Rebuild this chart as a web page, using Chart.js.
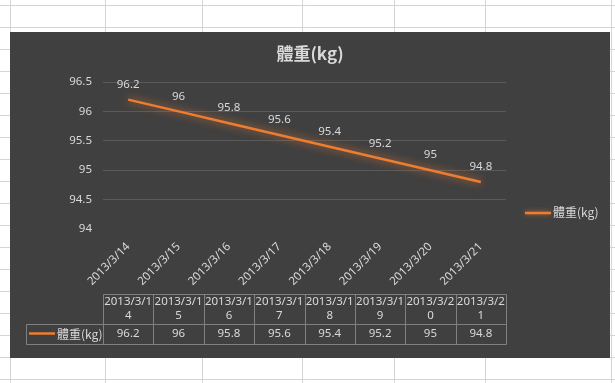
<!DOCTYPE html>
<html>
<head>
<meta charset="utf-8">
<script src="https://cdn.jsdelivr.net/npm/chart.js@4.4.1/dist/chart.umd.min.js"></script>
<style>
  html, body { margin: 0; padding: 0; background: #fff; }
  #chart { display: block; }
</style>
</head>
<body>
<canvas id="chart" width="615" height="383"></canvas>
<script>
// data
var dates = ['2013/3/14', '2013/3/15', '2013/3/16', '2013/3/17', '2013/3/18', '2013/3/19', '2013/3/20', '2013/3/21'];
var weights = [96.2, 96, 95.8, 95.6, 95.4, 95.2, 95, 94.8];
var yTicks = [94, 94.5, 95, 95.5, 96, 96.5];
var seriesName = '體重(kg)';
var chartTitle = '體重(kg)';

var ORANGE = '#ED7D31';
var PANEL = '#404040';
var TEXT = '#d9d9d9';
var FONT = '"Noto Sans", "Noto Sans CJK TC", sans-serif';

// white sheet, cell grid and the dark chart panel behind everything
var sheetPlugin = {
  id: 'sheet',
  beforeDraw: function(chart) {
    var ctx = chart.ctx;
    ctx.save();
    ctx.fillStyle = '#fff';
    ctx.fillRect(0, 0, chart.width, chart.height);
    ctx.strokeStyle = '#d4d4d4';
    ctx.lineWidth = 1;
    var cols = [10, 105, 202, 302, 394, 485, 611];
    cols.forEach(function(x) {
      ctx.beginPath(); ctx.moveTo(x + 0.5, 0); ctx.lineTo(x + 0.5, chart.height); ctx.stroke();
    });
    for (var y = 5; y < chart.height; y += 22) {
      ctx.beginPath(); ctx.moveTo(0, y + 0.5); ctx.lineTo(chart.width, y + 0.5); ctx.stroke();
    }
    ctx.fillStyle = PANEL;
    ctx.fillRect(10, 32, 600, 326);
    // title
    ctx.fillStyle = TEXT;
    ctx.font = 'bold 17px "Noto Sans CJK TC", sans-serif';
    ctx.textAlign = 'center';
    ctx.textBaseline = 'middle';
    ctx.fillText(chartTitle, 310, 54);
    ctx.restore();
  }
};

// soft orange glow on the line
var glowPlugin = {
  id: 'glow',
  beforeDatasetDraw: function(chart) {
    var ctx = chart.ctx;
    ctx.save();
    ctx.shadowColor = 'rgba(237,125,49,0.85)';
    ctx.shadowBlur = 9;
  },
  afterDatasetDraw: function(chart) {
    chart.ctx.restore();
  }
};

// value labels above each point
var valuePlugin = {
  id: 'values',
  afterDatasetsDraw: function(chart) {
    var ctx = chart.ctx;
    var meta = chart.getDatasetMeta(0);
    ctx.save();
    ctx.fillStyle = TEXT;
    ctx.font = '11.5px ' + FONT;
    ctx.textAlign = 'center';
    ctx.textBaseline = 'middle';
    meta.data.forEach(function(pt, i) {
      ctx.fillText(String(weights[i]), pt.x, pt.y - 15);
    });
    ctx.restore();
  }
};

// data table under the axis + legend on the right
var tablePlugin = {
  id: 'table',
  afterDraw: function(chart) {
    var ctx = chart.ctx;
    var xs = chart.scales.x;
    var n = dates.length;
    var w = xs.width / n;
    var top = chart.chartArea.bottom + 65;
    var mid = top + 30;
    var bot = mid + 20;
    var keyLeft = 26;
    ctx.save();
    ctx.strokeStyle = '#808080';
    ctx.lineWidth = 1;
    function line(x1, y1, x2, y2) {
      ctx.beginPath(); ctx.moveTo(x1, y1); ctx.lineTo(x2, y2); ctx.stroke();
    }
    var left = Math.round(xs.left) + 0.5;
    var right = Math.round(xs.right) + 0.5;
    line(left, top + 0.5, right, top + 0.5);
    line(keyLeft + 0.5, mid + 0.5, right, mid + 0.5);
    line(keyLeft + 0.5, bot + 0.5, right, bot + 0.5);
    line(keyLeft + 0.5, mid + 0.5, keyLeft + 0.5, bot + 0.5);
    for (var i = 0; i <= n; i++) {
      var x = Math.round(xs.left + i * w) + 0.5;
      line(x, top + 0.5, x, bot + 0.5);
    }
    ctx.fillStyle = TEXT;
    ctx.font = '11.5px ' + FONT;
    ctx.textAlign = 'center';
    ctx.textBaseline = 'middle';
    dates.forEach(function(d, i) {
      var cx = xs.getPixelForValue(i);
      ctx.fillText(d.slice(0, 8), cx, top + 8);
      ctx.fillText(d.slice(8), cx, top + 22);
      ctx.fillText(String(weights[i]), cx, mid + 10);
    });
    // key cell
    ctx.strokeStyle = ORANGE;
    ctx.lineWidth = 2.5;
    line(29, mid + 9.5, 55, mid + 9.5);
    ctx.textAlign = 'left';
    ctx.font = '12px "Noto Sans CJK TC", sans-serif';
    ctx.fillText(seriesName, 57, mid + 10);
    // side legend
    ctx.save();
    ctx.shadowColor = 'rgba(237,125,49,0.7)';
    ctx.shadowBlur = 5;
    line(525, 213, 551, 213);
    ctx.restore();
    ctx.fillText(seriesName, 553, 212);
    ctx.restore();
  }
};

new Chart(document.getElementById('chart'), {
  type: 'line',
  data: {
    labels: dates,
    datasets: [{
      label: seriesName,
      data: weights,
      borderColor: ORANGE,
      borderWidth: 2.5,
      pointRadius: 0,
      tension: 0,
      fill: false
    }]
  },
  options: {
    responsive: false,
    animation: false,
    layout: { padding: { left: 63, right: 109, top: 82, bottom: 94 } },
    plugins: {
      legend: { display: false },
      title: { display: false },
      tooltip: { enabled: false }
    },
    scales: {
      x: {
        offset: true,
        grid: { display: false, drawTicks: false },
        border: { display: false },
        ticks: {
          color: TEXT,
          font: { family: FONT, size: 11.5 },
          minRotation: 45,
          maxRotation: 45,
          autoSkip: false,
          padding: 11
        },
        afterFit: function(s) { s.height = 60; }
      },
      y: {
        min: 94,
        max: 96.5,
        afterBuildTicks: function(s) {
          s.ticks = yTicks.map(function(v) { return { value: v }; });
        },
        grid: {
          drawTicks: false,
          color: function(c) { return c.tick && c.tick.value === 94 ? 'rgba(0,0,0,0)' : '#5a5a5a'; }
        },
        border: { display: false },
        ticks: {
          color: TEXT,
          font: { family: FONT, size: 11.5 },
          padding: 11,
          callback: function(v) { return String(v); }
        },
        afterFit: function(s) { s.width = 40; }
      }
    }
  },
  plugins: [sheetPlugin, glowPlugin, valuePlugin, tablePlugin]
});
</script>
</body>
</html>
